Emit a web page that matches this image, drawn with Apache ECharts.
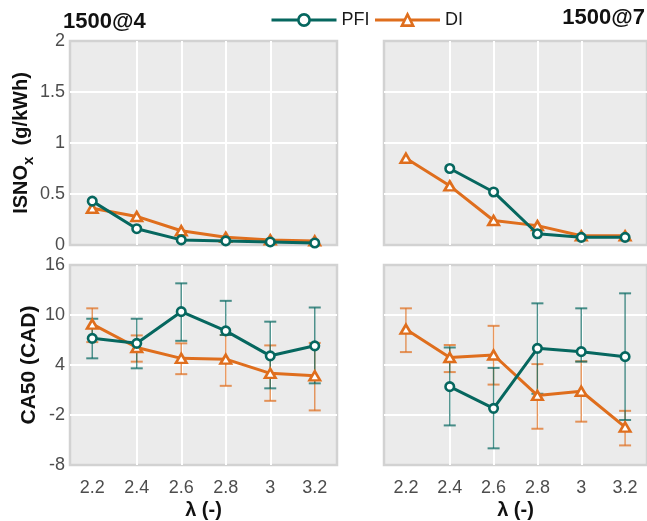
<!DOCTYPE html>
<html>
<head>
<meta charset="utf-8">
<script src="https://cdn.jsdelivr.net/npm/echarts@6/dist/echarts.min.js"></script>
<style>
  html, body { margin: 0; padding: 0; background: #ffffff; }
  #chart { width: 647px; height: 521px; }
</style>
</head>
<body>
<div id="chart"></div>
<script>
// Excess air ratio steps shared by every panel
const lambdaValues = [2.2, 2.4, 2.6, 2.8, 3.0, 3.2];
const noxTicks = [0, 0.5, 1, 1.5, 2];
const ca50Ticks = [-8, -2, 4, 10, 16];
const panelTitles = ['1500@4', '1500@7'];
const seriesNames = ['PFI', 'DI'];

// ISNOx (g/kWh), 1500@4
const noxPfi4 = [0.43, 0.16, 0.05, 0.04, 0.03, 0.02];
const noxDi4 = [0.36, 0.28, 0.14, 0.075, 0.05, 0.04];
// ISNOx (g/kWh), 1500@7
const noxPfi7 = [null, 0.75, 0.52, 0.11, 0.075, 0.075];
const noxDi7 = [0.85, 0.58, 0.24, 0.19, 0.09, 0.09];

// CA50 (CAD) mean with lower / upper spread, 1500@4
const caPfi4 = [7.2, 6.6, 10.4, 8.1, 5.1, 6.3];
const caPfi4Low = [4.8, 3.6, 6.9, 7.6, 1.2, 1.8];
const caPfi4High = [9.55, 9.55, 13.8, 11.7, 9.2, 10.9];
const caDi4 = [8.9, 6.1, 4.8, 4.7, 3.0, 2.7];
const caDi4Low = [6.75, 4.4, 2.9, 1.5, -0.3, -1.45];
const caDi4High = [10.8, 7.55, 6.6, 7.6, 6.35, 6.65];

// CA50 (CAD) mean with lower / upper spread, 1500@7
const caPfi7 = [null, 1.4, -1.2, 6.0, 5.6, 5.0];
const caPfi7Low = [null, -3.25, -6.0, 0.55, 4.4, -2.6];
const caPfi7High = [null, 6.1, 3.65, 11.4, 10.8, 12.6];
const caDi7 = [8.3, 4.9, 5.2, 0.35, 0.85, -3.45];
const caDi7Low = [5.55, 3.15, 1.65, -3.65, -2.8, -5.65];
const caDi7High = [10.8, 6.4, 8.7, 4.1, 4.45, -1.5];

const PFI_COLOR = '#06675f';
const DI_COLOR = '#df6e1d';
const FONT = '"Liberation Sans", Arial, Helvetica, sans-serif';

function points(values) {
  const out = [];
  values.forEach((v, i) => { if (v !== null) out.push([lambdaValues[i], v]); });
  return out;
}
function ranges(low, high) {
  const out = [];
  low.forEach((v, i) => { if (v !== null && high[i] !== null) out.push([lambdaValues[i], v, high[i]]); });
  return out;
}

// Vertical whisker with a short cap at each end
function errorBarRenderer(color) {
  return function (params, api) {
    const x = api.value(0);
    const pLo = api.coord([x, api.value(1)]);
    const pHi = api.coord([x, api.value(2)]);
    const half = 6;
    const stem = { stroke: color, lineWidth: 1.4, opacity: 0.72 };
    const cap = { stroke: color, lineWidth: 2, opacity: 0.72 };
    return {
      type: 'group',
      children: [
        { type: 'line', shape: { x1: pLo[0], y1: pLo[1], x2: pHi[0], y2: pHi[1] }, style: stem },
        { type: 'line', shape: { x1: pLo[0] - half, y1: pLo[1], x2: pLo[0] + half, y2: pLo[1] }, style: cap },
        { type: 'line', shape: { x1: pHi[0] - half, y1: pHi[1], x2: pHi[0] + half, y2: pHi[1] }, style: cap }
      ]
    };
  };
}

const panelBox = [
  { left: 70, top: 41, width: 267, height: 204 },
  { left: 384, top: 41, width: 266, height: 204 },
  { left: 70, top: 265, width: 267, height: 206 },
  { left: 384, top: 265, width: 266, height: 206 }
];

const grids = panelBox.map(b => Object.assign({
  show: true,
  backgroundColor: '#ebebeb',
  borderColor: '#d2d2d2',
  borderWidth: 2.5,
  containLabel: false
}, b));

const splitLine = {
  show: true,
  showMinLine: false,
  showMaxLine: false,
  lineStyle: { color: '#ffffff', width: 2 }
};

const xAxes = [0, 1, 2, 3].map(i => ({
  type: 'value',
  gridIndex: i,
  min: 2.1,
  max: 3.3,
  axisLine: { show: false },
  axisTick: { show: false, customValues: lambdaValues },
  axisLabel: {
    show: i >= 2,
    customValues: lambdaValues,
    color: '#4d4d4d',
    fontSize: 18,
    fontFamily: FONT,
    margin: 14
  },
  splitLine: splitLine,
  name: i >= 2 ? 'λ (-)' : '',
  nameLocation: 'middle',
  nameGap: 35,
  nameTextStyle: { fontSize: 20, fontWeight: 'bold', color: '#111111', fontFamily: FONT }
}));

const yLabel = (show) => ({ show: show, color: '#4d4d4d', fontSize: 18, fontFamily: FONT, margin: 5 });

const yAxes = [
  {
    type: 'value', gridIndex: 0, min: 0, max: 2,
    axisLine: { show: false },
    axisTick: { show: false, customValues: noxTicks },
    axisLabel: Object.assign(yLabel(true), { customValues: noxTicks }),
    splitLine: splitLine,
    name: '{b|ISNO}{s|x}{b|  (g/kWh)}',
    nameLocation: 'middle',
    nameGap: 34,
    nameTextStyle: {
      fontFamily: FONT,
      rich: {
        b: { fontSize: 20, fontWeight: 'bold', color: '#111111', fontFamily: FONT, lineHeight: 30, verticalAlign: 'middle' },
        s: { fontSize: 15, fontWeight: 'bold', color: '#111111', fontFamily: FONT, lineHeight: 30, verticalAlign: 'bottom' }
      }
    }
  },
  {
    type: 'value', gridIndex: 1, min: 0, max: 2,
    axisLine: { show: false },
    axisTick: { show: false, customValues: noxTicks },
    axisLabel: Object.assign(yLabel(false), { customValues: noxTicks }),
    splitLine: splitLine
  },
  {
    type: 'value', gridIndex: 2, min: -8, max: 16,
    axisLine: { show: false },
    axisTick: { show: false, customValues: ca50Ticks },
    axisLabel: Object.assign(yLabel(true), { customValues: ca50Ticks }),
    splitLine: splitLine,
    name: 'CA50 (CAD)',
    nameLocation: 'middle',
    nameGap: 30,
    nameTextStyle: { fontSize: 21, fontWeight: 'bold', color: '#111111', fontFamily: FONT }
  },
  {
    type: 'value', gridIndex: 3, min: -8, max: 16,
    axisLine: { show: false },
    axisTick: { show: false, customValues: ca50Ticks },
    axisLabel: Object.assign(yLabel(false), { customValues: ca50Ticks }),
    splitLine: splitLine
  }
];

function lineSeries(name, values, panel) {
  const isPfi = name === seriesNames[0];
  const color = isPfi ? PFI_COLOR : DI_COLOR;
  return {
    name: name,
    type: 'line',
    xAxisIndex: panel,
    yAxisIndex: panel,
    data: points(values),
    z: isPfi ? 5 : 4,
    color: color,
    symbol: isPfi ? 'circle' : 'triangle',
    symbolSize: isPfi ? 8.5 : [10.5, 9],
    showAllSymbol: true,
    lineStyle: { color: color, width: 3 },
    itemStyle: { color: '#ffffff', borderColor: color, borderWidth: 2.6 },
    emphasis: { disabled: true },
    animation: false
  };
}

function errorSeries(name, low, high, panel) {
  const color = name === seriesNames[0] ? PFI_COLOR : DI_COLOR;
  return {
    name: name + ' spread',
    type: 'custom',
    xAxisIndex: panel,
    yAxisIndex: panel,
    data: ranges(low, high),
    encode: { x: 0, y: [1, 2] },
    renderItem: errorBarRenderer(color),
    z: 3,
    silent: true,
    animation: false
  };
}

const series = [
  lineSeries('PFI', noxPfi4, 0),
  lineSeries('DI', noxDi4, 0),
  lineSeries('PFI', noxPfi7, 1),
  lineSeries('DI', noxDi7, 1),
  lineSeries('PFI', caPfi4, 2),
  lineSeries('DI', caDi4, 2),
  lineSeries('PFI', caPfi7, 3),
  lineSeries('DI', caDi7, 3),
  errorSeries('DI', caDi4Low, caDi4High, 2),
  errorSeries('PFI', caPfi4Low, caPfi4High, 2),
  errorSeries('DI', caDi7Low, caDi7High, 3),
  errorSeries('PFI', caPfi7Low, caPfi7High, 3)
];

const chart = echarts.init(document.getElementById('chart'), null, { renderer: 'canvas' });
chart.setOption({
  animation: false,
  textStyle: { fontFamily: FONT },
  title: [
    { text: panelTitles[0], left: 63, top: 11, padding: 0,
      textStyle: { fontSize: 22, fontWeight: 'bold', color: '#111111', fontFamily: FONT } },
    { text: panelTitles[1], right: 2, top: 7, padding: 0,
      textStyle: { fontSize: 22, fontWeight: 'bold', color: '#111111', fontFamily: FONT } }
  ],
  legend: {
    data: seriesNames,
    left: 270,
    top: 11,
    padding: 0,
    itemWidth: 65,
    itemHeight: 14,
    itemGap: 4,
    lineStyle: { width: 3 },
    itemStyle: { borderWidth: 2.6 },
    textStyle: { fontSize: 18, color: '#1a1a1a', fontFamily: FONT },
    selectedMode: false
  },
  grid: grids,
  xAxis: xAxes,
  yAxis: yAxes,
  series: series
});
</script>
</body>
</html>
